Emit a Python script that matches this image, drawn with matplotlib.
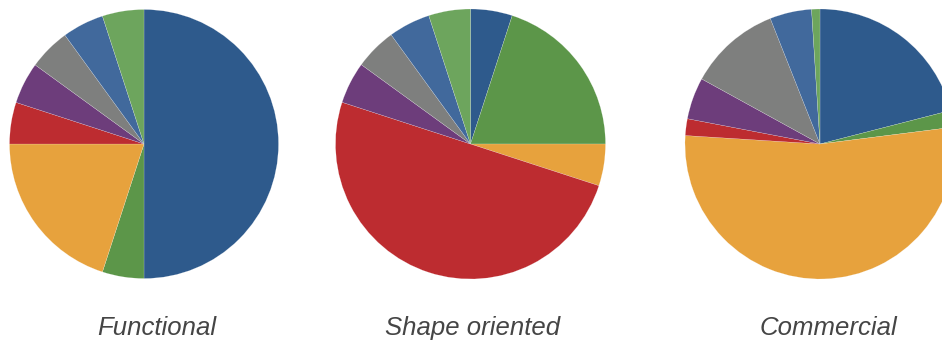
import matplotlib
matplotlib.use("Agg")
import matplotlib.pyplot as plt

# valores por fatia, sentido horario a partir do topo
titulos = ["Functional", "Shape oriented", "Commercial"]
functional = [50, 5, 20, 5, 5, 5, 5, 5]
shape_oriented = [5, 20, 5, 50, 5, 5, 5, 5]
commercial = [21, 2, 53, 2, 5, 11, 5, 1]
cores = ["#2e5a8c", "#5c9649", "#e7a23d", "#bd2c30",
         "#6d3d7b", "#7e7f7e", "#41699c", "#6da55d"]

W, H = 942, 343
fig = plt.figure(figsize=(W / 100, H / 100), dpi=100)

# centro (px) e raio de cada pizza
centros = [(144, 144, 134.5), (470.5, 144, 135), (820, 144, 135)]
centros_texto = [156.5, 473, 828]

for dados, (cx, cy, r), titulo, tx in zip(
        [functional, shape_oriented, commercial], centros, titulos, centros_texto):
    ax = fig.add_axes([(cx - r) / W, (H - cy - r) / H, 2 * r / W, 2 * r / H])
    ax.pie(dados, colors=cores, startangle=90, counterclock=False,
           wedgeprops=dict(edgecolor="#ffffff90", linewidth=0.2))
    ax.set_xlim(-1, 1)
    ax.set_ylim(-1, 1)
    ax.axis("off")
    fig.text(tx / W, (H - 335) / H, titulo, ha="center", va="baseline",
             fontsize=18.5, style="italic", color="#454545",
             family=["Liberation Sans", "DejaVu Sans"])

fig.savefig("out.png", dpi=100)
